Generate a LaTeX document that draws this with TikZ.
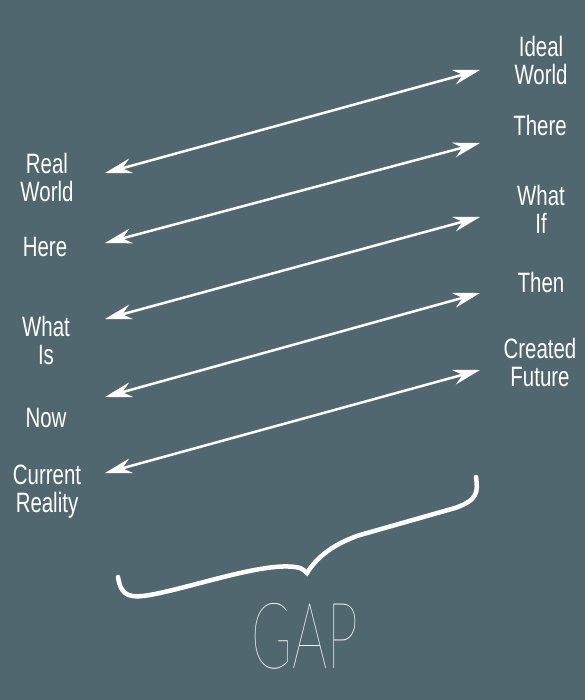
\documentclass[tikz,border=0pt]{standalone}
\usepackage{fontspec}
\usetikzlibrary{arrows.meta}
\newfontfamily\wordfont[FakeStretch=0.73]{Liberation Sans}
\newfontfamily\gapfont[FakeStretch=0.6]{Lato Hairline}
\definecolor{slate}{RGB}{81,103,111}
\begin{document}
\begin{tikzpicture}[x=1pt, y=-1pt,
	word/.style={text=white, align=center, inner sep=0pt, font=\wordfont\fontsize{28}{28}\selectfont},
	gaparrow/.style={draw=white, line width=2.5pt, {Stealth[length=27pt, width=15pt, inset=9pt]}-{Stealth[length=27pt, width=15pt, inset=9pt]}}]
	\fill[slate] (0,0) rectangle (585,700);
	\useasboundingbox (0,0) rectangle (585,700);

	\node[word](RW) at (47, 177){Real\\World};
	\node[word](H) at (45, 247){Here};
	\node[word](WI) at (46, 340){What\\Is};
	\node[word](N) at (46, 418){Now};
	\node[word](CR) at (47, 492){Current\\Reality};
	\node[word](IW) at (541, 60){Ideal\\World};
	\node[word](T) at (540, 125){There};
	\node[word](WF) at (541, 209){What\\If};
	\node[word](TN) at (541, 282){Then};
	\node[word](CF) at (540, 362){Created\\Future};
	\node[text=white, inner sep=0pt, font=\gapfont\fontsize{92}{92}\selectfont](G) at (305, 636){GAP};

	\coordinate(RWt) at (105, 173);
	\coordinate(Ht) at (105, 243);
	\coordinate(WIt) at (105, 319);
	\coordinate(Nt) at (105, 397);
	\coordinate(CRt) at (105, 473);
	\coordinate(IWt) at (480, 70);
	\coordinate(Tt) at (480, 143);
	\coordinate(WFt) at (480, 217);
	\coordinate(TNt) at (480, 293);
	\coordinate(CFt) at (480, 370);

	\draw [gaparrow] (RWt) -- (IWt);
	\draw [gaparrow] (Ht) -- (Tt);
	\draw [gaparrow] (WIt) -- (WFt);
	\draw [gaparrow] (Nt) -- (TNt);
	\draw [gaparrow] (CRt) -- (CFt);

	% the brace over GAP
	\draw [white, line width=4.5pt, line cap=round] (118, 577) .. controls (121, 597) and (130, 599) .. (155, 594)
		.. controls (200, 585) and (270, 560) .. (300, 568)
		.. controls (304, 570) and (306, 572) .. (307, 573)
		.. controls (315, 560) and (330, 545) .. (360, 535)
		-- (455, 508)
		.. controls (478, 500) and (478, 492) .. (476, 477);
\end{tikzpicture}
\end{document}
